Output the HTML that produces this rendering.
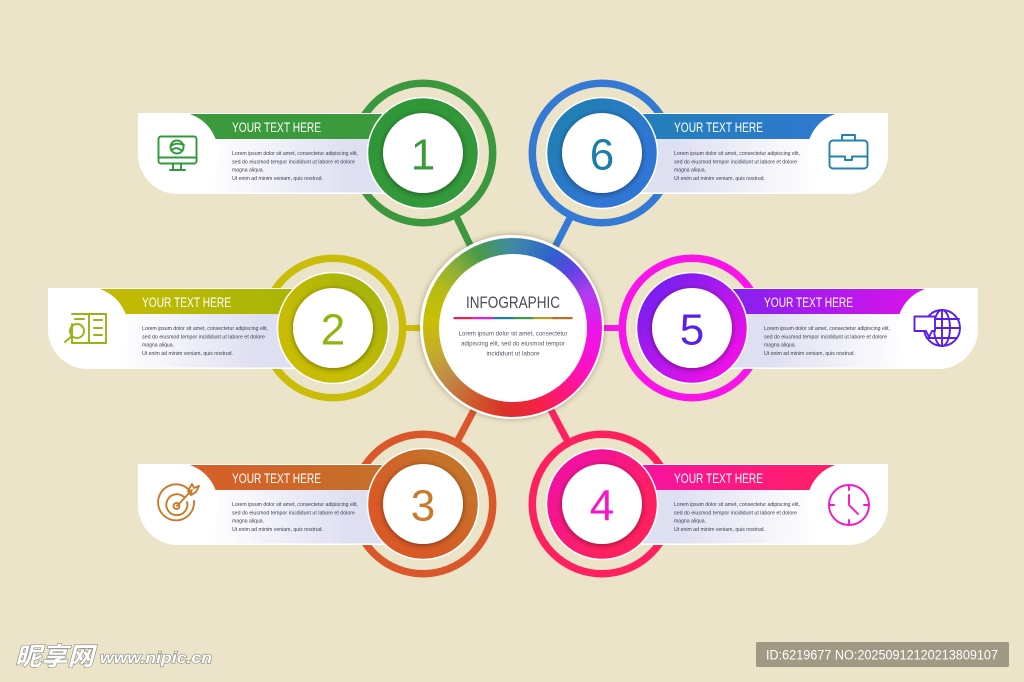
<!DOCTYPE html>
<html>
<head>
<meta charset="utf-8">
<style>
html,body{margin:0;padding:0;background:#ece4c8;width:1024px;height:682px;overflow:hidden}
#w{position:relative;width:1024px;height:682px}
svg{position:absolute;left:0;top:0}
#c{position:absolute;left:420px;top:235px;width:184px;height:184px;border-radius:50%;background:#fff;box-shadow:0 0 6px rgba(90,80,50,.45)}
#r{position:absolute;left:2.5px;top:2.5px;width:179px;height:179px;border-radius:50%;background:conic-gradient(#3f8aa6 0deg,#2f62cc 28deg,#5a45e0 45deg,#b03cf0 65deg,#ee12ec 92deg,#fb12c8 118deg,#ff1590 135deg,#f52048 160deg,#dc3028 185deg,#cf5a2c 208deg,#bf8a4a 232deg,#c4ac2a 252deg,#cabf02 275deg,#b6bb14 298deg,#8fb038 315deg,#4a9a48 335deg,#3f8aa6 360deg)}
#i{position:absolute;left:16px;top:16px;width:148px;height:148px;border-radius:50%;background:#fff}
text{font-family:"Liberation Sans",sans-serif}
.h{fill:#fff;font-size:13.5px}
.b{fill:#3c3c50;font-size:5.3px}
.n{font-size:44px;text-anchor:middle}
.ic{fill:none;stroke-width:1.9;stroke-linecap:round;stroke-linejoin:round}
</style>
</head>
<body>
<div id="w">
<svg width="1024" height="682" viewBox="0 0 1024 682">
<defs>
<clipPath id="cl"><path d="M-285,-40H-20V41H-245A40,40 0 0 1 -285,1Z"/></clipPath>
<clipPath id="cr"><path d="M286,-40H20V41H246A40,40 0 0 0 286,1Z"/></clipPath>
<filter id="s" x="-30%" y="-30%" width="160%" height="160%"><feDropShadow dx="0" dy="1" stdDeviation="3" flood-color="#000" flood-opacity=".45"/></filter>
<linearGradient id="bl"><stop offset=".12" stop-color="#fff"/><stop offset=".75" stop-color="#dfdff2"/></linearGradient>
<linearGradient id="br"><stop offset=".25" stop-color="#dfdff2"/><stop offset=".88" stop-color="#fff"/></linearGradient>
<linearGradient id="h1"><stop offset="0" stop-color="#3a9a3c"/><stop offset="1" stop-color="#3a9a3c"/></linearGradient>
<linearGradient id="h2"><stop offset="0" stop-color="#c6bc04"/><stop offset="1" stop-color="#a6b408"/></linearGradient>
<linearGradient id="h3"><stop offset="0" stop-color="#d95d28"/><stop offset="1" stop-color="#c2722a"/></linearGradient>
<linearGradient id="h4"><stop offset="0" stop-color="#f612a4"/><stop offset="1" stop-color="#ff2060"/></linearGradient>
<linearGradient id="h5"><stop offset="0" stop-color="#7c22f0"/><stop offset="1" stop-color="#e012ea"/></linearGradient>
<linearGradient id="h6"><stop offset="0" stop-color="#2080b6"/><stop offset="1" stop-color="#3278d2"/></linearGradient>
<linearGradient id="d1" x1="0" y1="0" x2="1" y2="1"><stop offset="0" stop-color="#2f9637"/><stop offset="1" stop-color="#349a3a"/></linearGradient>
<linearGradient id="d2" x1="1" y1="0" x2="0" y2="1"><stop offset="0" stop-color="#9fb20c"/><stop offset=".7" stop-color="#c8bd04"/></linearGradient>
<linearGradient id="d3" x1="1" y1="0" x2="0" y2="1"><stop offset="0" stop-color="#bd7c2a"/><stop offset=".7" stop-color="#d95a26"/></linearGradient>
<linearGradient id="d4" x1="0" y1="0" x2="1" y2="1"><stop offset=".1" stop-color="#f010a8"/><stop offset=".7" stop-color="#ff2060"/></linearGradient>
<linearGradient id="d5" x1="0" y1="0" x2="1" y2="1"><stop offset=".1" stop-color="#7020f0"/><stop offset=".85" stop-color="#f010e8"/></linearGradient>
<linearGradient id="d6" x1="0" y1="0" x2="1" y2="1"><stop offset=".1" stop-color="#1f80b0"/><stop offset=".7" stop-color="#3076d4"/></linearGradient>
</defs>

<!-- connectors -->
<g stroke-width="7" fill="none">
<line x1="456" y1="216" x2="471" y2="247" stroke="#3b983f"/>
<line x1="571" y1="216" x2="555" y2="247" stroke="#347ad4"/>
<line x1="402" y1="328" x2="423" y2="328" stroke="#cabd0a" stroke-width="6"/>
<line x1="603" y1="328" x2="622" y2="328" stroke="#f815e8" stroke-width="6"/>
<line x1="474" y1="410" x2="457" y2="442" stroke="#d9572a"/>
<line x1="551" y1="410" x2="568" y2="442" stroke="#ff2060"/>
</g>

<!-- 1 -->
<g transform="translate(423,153)">
<circle r="69.7" fill="none" stroke="#3b983f" stroke-width="7.5"/>
<path d="M-285,-40H-30V41H-245A40,40 0 0 1 -285,1Z" fill="#fff"/>
<rect x="-240" y="-14" width="220" height="53.500" fill="url(#bl)"/>
<rect x="-246" y="-39" width="226" height="25" fill="url(#h1)"/>
<path d="M-285,-40H-240V0H-285Z" fill="#fff"/><circle cx="-246" cy="0" r="41" fill="#fff" clip-path="url(#cl)"/>
<circle r="55.5" fill="url(#d1)" stroke="#fff" stroke-width="1.5"/>
<circle r="40" fill="#fff" filter="url(#s)"/>
<text class="n" y="16.500" fill="#3a9a3c">1</text>
<text class="h" x="-191" y="-21" textLength="89" lengthAdjust="spacingAndGlyphs">YOUR TEXT HERE</text>
<text class="b" x="-191" y="2" textLength="126" lengthAdjust="spacingAndGlyphs">Lorem ipsum dolor sit amet, consectetur adipiscing elit,</text>
<text class="b" x="-191" y="10.300" textLength="123" lengthAdjust="spacingAndGlyphs">sed do eiusmod tempor incididunt ut labore et dolore</text>
<text class="b" x="-191" y="18.600" textLength="32" lengthAdjust="spacingAndGlyphs">magna aliqua.</text>
<text class="b" x="-191" y="26.900" textLength="91" lengthAdjust="spacingAndGlyphs">Ut enim ad minim veniam, quis nostrud.</text>
</g>
<g class="ic" stroke="#2f9a38">
<rect x="158.500" y="136.500" width="38" height="27" rx="2.500"/><line x1="158.500" y1="157.500" x2="196.500" y2="157.500"/>
<path d="M173,164V169M181,164V169M170,170H185"/>
<circle cx="177" cy="147" r="6.500"/><path d="M171,146C175,143 179,143 184,145M172,150C175,147 179,148 182,151"/>
</g>

<!-- 2 -->
<g transform="translate(333,328)">
<circle r="69.7" fill="none" stroke="#cabd0a" stroke-width="7.500"/>
<path d="M-285,-40H-30V41H-245A40,40 0 0 1 -285,1Z" fill="#fff"/>
<rect x="-240" y="-14" width="220" height="53.500" fill="url(#bl)"/>
<rect x="-246" y="-39" width="226" height="25" fill="url(#h2)"/>
<path d="M-285,-40H-240V0H-285Z" fill="#fff"/><circle cx="-246" cy="0" r="41" fill="#fff" clip-path="url(#cl)"/>
<circle r="55.500" fill="url(#d2)" stroke="#fff" stroke-width="1.500"/>
<circle r="40" fill="#fff" filter="url(#s)"/>
<text class="n" y="16.500" fill="#8fb510">2</text>
<text class="h" x="-191" y="-21" textLength="89" lengthAdjust="spacingAndGlyphs">YOUR TEXT HERE</text>
<text class="b" x="-191" y="2" textLength="126" lengthAdjust="spacingAndGlyphs">Lorem ipsum dolor sit amet, consectetur adipiscing elit,</text>
<text class="b" x="-191" y="10.300" textLength="123" lengthAdjust="spacingAndGlyphs">sed do eiusmod tempor incididunt ut labore et dolore</text>
<text class="b" x="-191" y="18.600" textLength="32" lengthAdjust="spacingAndGlyphs">magna aliqua.</text>
<text class="b" x="-191" y="26.900" textLength="91" lengthAdjust="spacingAndGlyphs">Ut enim ad minim veniam, quis nostrud.</text>
</g>
<g class="ic" stroke="#98b316">
<path d="M72,314H89V343H72V324M89,314H106V343H89"/>
<path d="M94,320H102M94,328H102M94,335H102M75,319H84"/>
<circle cx="77" cy="331" r="7"/><line x1="72" y1="336" x2="65" y2="342"/>
</g>

<!-- 3 -->
<g transform="translate(423,504)">
<circle r="69.700" fill="none" stroke="#d9572a" stroke-width="7.500"/>
<path d="M-285,-40H-30V41H-245A40,40 0 0 1 -285,1Z" fill="#fff"/>
<rect x="-240" y="-14" width="220" height="53.500" fill="url(#bl)"/>
<rect x="-246" y="-39" width="226" height="25" fill="url(#h3)"/>
<path d="M-285,-40H-240V0H-285Z" fill="#fff"/><circle cx="-246" cy="0" r="41" fill="#fff" clip-path="url(#cl)"/>
<circle r="55.500" fill="url(#d3)" stroke="#fff" stroke-width="1.500"/>
<circle r="40" fill="#fff" filter="url(#s)"/>
<text class="n" y="16.500" fill="#c97a2a">3</text>
<text class="h" x="-191" y="-21" textLength="89" lengthAdjust="spacingAndGlyphs">YOUR TEXT HERE</text>
<text class="b" x="-191" y="2" textLength="126" lengthAdjust="spacingAndGlyphs">Lorem ipsum dolor sit amet, consectetur adipiscing elit,</text>
<text class="b" x="-191" y="10.300" textLength="123" lengthAdjust="spacingAndGlyphs">sed do eiusmod tempor incididunt ut labore et dolore</text>
<text class="b" x="-191" y="18.600" textLength="32" lengthAdjust="spacingAndGlyphs">magna aliqua.</text>
<text class="b" x="-191" y="26.900" textLength="91" lengthAdjust="spacingAndGlyphs">Ut enim ad minim veniam, quis nostrud.</text>
</g>
<g class="ic" stroke="#c97a2a">
<path d="M192,494A18,18 0 1 0 194,501"/><path d="M184,497A10.500,10.500 0 1 0 187,502"/><circle cx="176.500" cy="506" r="3"/>
<path d="M177,506L192,490M188,491L192,484L194,488L199,486L196,492L191,495Z"/>
</g>

<!-- 4 -->
<g transform="translate(602,504)">
<circle r="69.700" fill="none" stroke="#ff2060" stroke-width="7.500"/>
<path d="M286,-40H30V41H246A40,40 0 0 0 286,1Z" fill="#fff"/>
<rect x="20" y="-14" width="220" height="53.500" fill="url(#br)"/>
<rect x="20" y="-39" width="226" height="25" fill="url(#h4)"/>
<path d="M286,-40H240V0H286Z" fill="#fff"/><circle cx="246" cy="0" r="41" fill="#fff" clip-path="url(#cr)"/>
<circle r="55.500" fill="url(#d4)" stroke="#fff" stroke-width="1.500"/>
<circle r="40" fill="#fff" filter="url(#s)"/>
<text class="n" y="16.500" fill="#f815c8">4</text>
<text class="h" x="72" y="-21" textLength="89" lengthAdjust="spacingAndGlyphs">YOUR TEXT HERE</text>
<text class="b" x="72" y="2" textLength="126" lengthAdjust="spacingAndGlyphs">Lorem ipsum dolor sit amet, consectetur adipiscing elit,</text>
<text class="b" x="72" y="10.300" textLength="123" lengthAdjust="spacingAndGlyphs">sed do eiusmod tempor incididunt ut labore et dolore</text>
<text class="b" x="72" y="18.600" textLength="32" lengthAdjust="spacingAndGlyphs">magna aliqua.</text>
<text class="b" x="72" y="26.900" textLength="91" lengthAdjust="spacingAndGlyphs">Ut enim ad minim veniam, quis nostrud.</text>
</g>
<g class="ic" stroke="#f815c8">
<circle cx="849" cy="505" r="20"/><path d="M849,495V505L858,514M849,485V490M849,520V525M829,505H834M864,505H869"/>
</g>

<!-- 5 -->
<g transform="translate(692,328)">
<circle r="69.700" fill="none" stroke="#f815e8" stroke-width="7.500"/>
<path d="M286,-40H30V41H246A40,40 0 0 0 286,1Z" fill="#fff"/>
<rect x="20" y="-14" width="220" height="53.500" fill="url(#br)"/>
<rect x="20" y="-39" width="226" height="25" fill="url(#h5)"/>
<path d="M286,-40H240V0H286Z" fill="#fff"/><circle cx="246" cy="0" r="41" fill="#fff" clip-path="url(#cr)"/>
<circle r="55.500" fill="url(#d5)" stroke="#fff" stroke-width="1.500"/>
<circle r="40" fill="#fff" filter="url(#s)"/>
<text class="n" y="16.500" fill="#5a20e8">5</text>
<text class="h" x="72" y="-21" textLength="89" lengthAdjust="spacingAndGlyphs">YOUR TEXT HERE</text>
<text class="b" x="72" y="2" textLength="126" lengthAdjust="spacingAndGlyphs">Lorem ipsum dolor sit amet, consectetur adipiscing elit,</text>
<text class="b" x="72" y="10.300" textLength="123" lengthAdjust="spacingAndGlyphs">sed do eiusmod tempor incididunt ut labore et dolore</text>
<text class="b" x="72" y="18.600" textLength="32" lengthAdjust="spacingAndGlyphs">magna aliqua.</text>
<text class="b" x="72" y="26.900" textLength="91" lengthAdjust="spacingAndGlyphs">Ut enim ad minim veniam, quis nostrud.</text>
</g>
<g class="ic" stroke="#5a20e8">
<circle cx="942" cy="328" r="18"/><ellipse cx="942" cy="328" rx="8" ry="18"/><path d="M942,310V346M935,319H959M935,328H960M927,338H957"/>
<path d="M914.500,316.500H935V331H932L929,337L926,331H914.500Z" fill="#fff"/>
</g>

<!-- 6 -->
<g transform="translate(602,153)">
<circle r="69.700" fill="none" stroke="#347ad4" stroke-width="7.500"/>
<path d="M286,-40H30V41H246A40,40 0 0 0 286,1Z" fill="#fff"/>
<rect x="20" y="-14" width="220" height="53.500" fill="url(#br)"/>
<rect x="20" y="-39" width="226" height="25" fill="url(#h6)"/>
<path d="M286,-40H240V0H286Z" fill="#fff"/><circle cx="246" cy="0" r="41" fill="#fff" clip-path="url(#cr)"/>
<circle r="55.500" fill="url(#d6)" stroke="#fff" stroke-width="1.500"/>
<circle r="40" fill="#fff" filter="url(#s)"/>
<text class="n" y="16.500" fill="#1a7fa8">6</text>
<text class="h" x="72" y="-21" textLength="89" lengthAdjust="spacingAndGlyphs">YOUR TEXT HERE</text>
<text class="b" x="72" y="2" textLength="126" lengthAdjust="spacingAndGlyphs">Lorem ipsum dolor sit amet, consectetur adipiscing elit,</text>
<text class="b" x="72" y="10.300" textLength="123" lengthAdjust="spacingAndGlyphs">sed do eiusmod tempor incididunt ut labore et dolore</text>
<text class="b" x="72" y="18.600" textLength="32" lengthAdjust="spacingAndGlyphs">magna aliqua.</text>
<text class="b" x="72" y="26.900" textLength="91" lengthAdjust="spacingAndGlyphs">Ut enim ad minim veniam, quis nostrud.</text>
</g>
<g class="ic" stroke="#1f85b0">
<rect x="829.500" y="140.500" width="38" height="28" rx="3.500"/><path d="M842,140V135H855V140M829.500,156.500H845M852,156.500H867.500M845,156.500V160H852V156.500"/>
</g>
</svg>

<div id="c"><div id="r"><div id="i"></div></div></div>

<svg width="1024" height="682" viewBox="0 0 1024 682">
<text x="513" y="308" font-size="17" fill="#4a4a5a" text-anchor="middle" textLength="94" lengthAdjust="spacingAndGlyphs">INFOGRAPHIC</text>
<rect x="453.500" y="317" width="20" height="2.200" fill="#f02050"/>
<rect x="473.500" y="317" width="20" height="2.200" fill="#f015e0"/>
<rect x="493" y="317" width="20" height="2.200" fill="#1a7fb0"/>
<rect x="513" y="317" width="20" height="2.200" fill="#3a9a50"/>
<rect x="533" y="317" width="20" height="2.200" fill="#b0a020"/>
<rect x="552.500" y="317" width="20" height="2.200" fill="#c06a20"/>
<g font-size="6.300" fill="#55556a" text-anchor="middle">
<text x="513" y="335.500" textLength="109" lengthAdjust="spacingAndGlyphs">Lorem ipsum dolor sit amet, consectetur</text>
<text x="513" y="345.500" textLength="104" lengthAdjust="spacingAndGlyphs">adipiscing elit, sed do eiusmod tempor</text>
<text x="513" y="355.500" textLength="53" lengthAdjust="spacingAndGlyphs">incididunt ut labore</text>
</g>
<!-- watermark -->
<rect x="756" y="642" width="253" height="25" rx="1.500" fill="#a09a85"/>
<text x="766" y="659.500" font-size="13.500" fill="#fff" textLength="232" lengthAdjust="spacingAndGlyphs">ID:6219677 NO:20250912120213809107</text>
<g fill="#fff" stroke="#8a8a80" stroke-width="1.200" paint-order="stroke" font-weight="bold">
<text x="15" y="665" font-size="25" style="font-family:'Noto Sans CJK SC',sans-serif;font-style:italic" textLength="79" lengthAdjust="spacingAndGlyphs">昵享网</text>
<text x="100" y="663" font-size="16" font-style="italic" textLength="112" lengthAdjust="spacingAndGlyphs">www.nipic.cn</text>
</g>
</svg>
</div>
</body>
</html>
